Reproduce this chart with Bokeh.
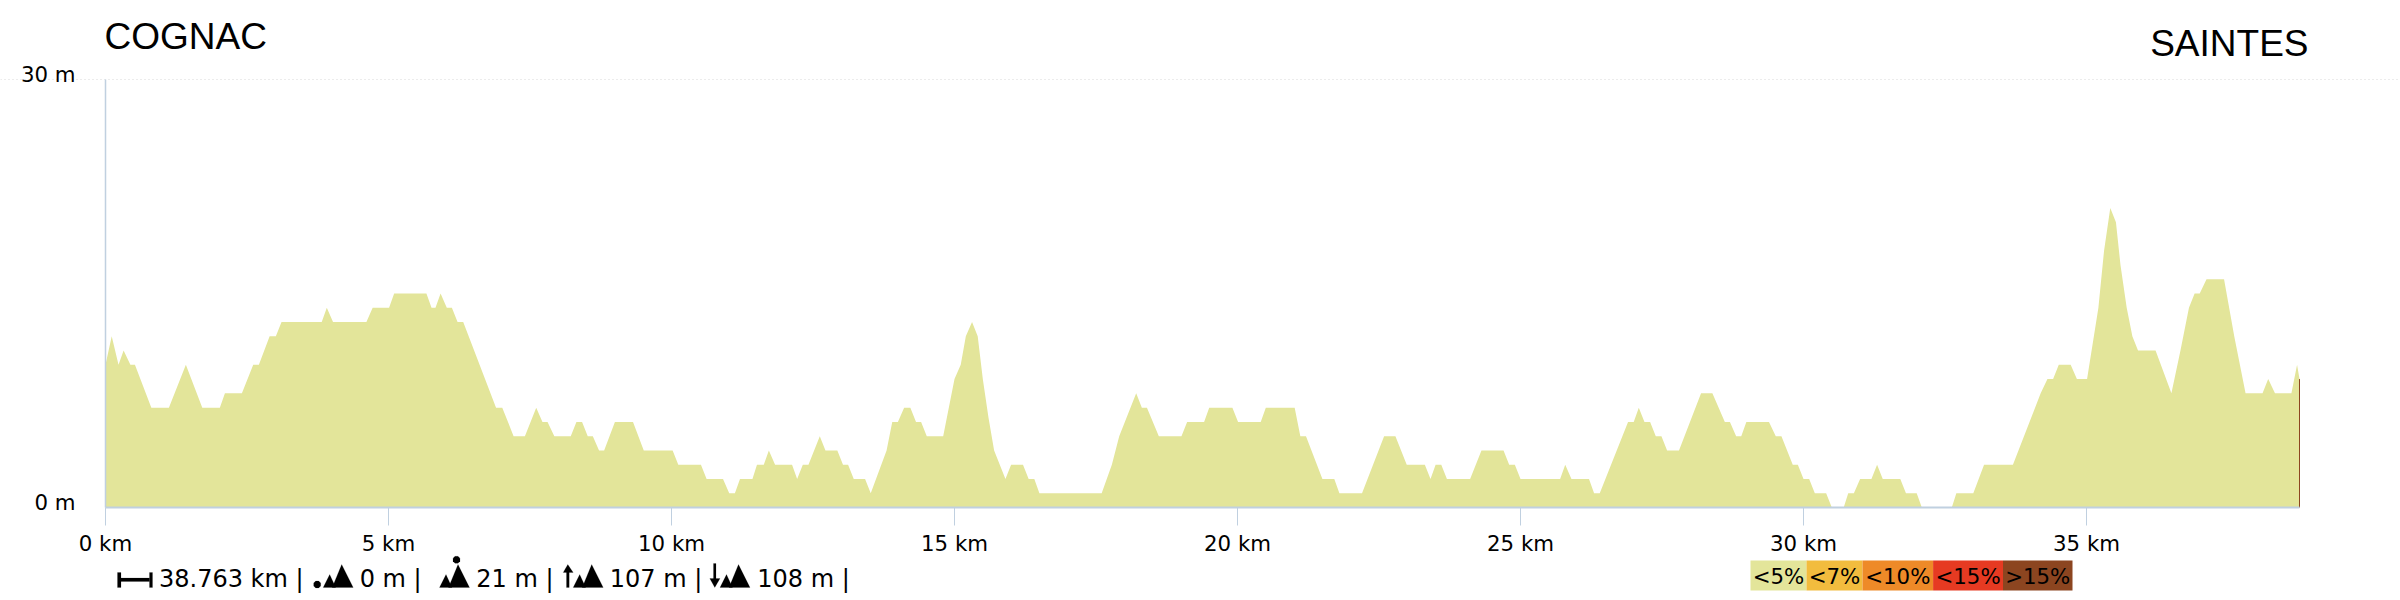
from bokeh.embed import file_html
from bokeh.resources import INLINE
from bokeh.plotting import figure
from bokeh.models import Label, PolyAnnotation, Range1d, FixedTicker, LinearAxis, Grid

start_name = "COGNAC"
end_name = "SAINTES"
dist_km = [0, .11, .23, .32, .44, .52, .81, 1.12, 1.42, 1.71, 2.02, 2.11, 2.41, 2.61, 2.71, 2.90, 3.01, 3.11,
           3.82, 3.91, 4.02, 4.61, 4.72, 5.01, 5.10, 5.67, 5.76, 5.83, 5.92, 6.03, 6.12, 6.22, 6.32, 6.90, 7.01,
           7.21, 7.41, 7.61, 7.72, 7.81, 7.93, 8.22, 8.32, 8.42, 8.52, 8.61, 8.72, 8.81, 9.00, 9.32, 9.51, 10.02,
           10.12, 10.52, 10.62, 10.91, 11.02, 11.12, 11.21, 11.43, 11.51, 11.63, 11.72, 11.83, 12.13, 12.22, 12.32,
           12.42, 12.62, 12.72, 12.93, 13.03, 13.12, 13.22, 13.42, 13.52, 13.80, 13.90, 14.00, 14.11, 14.22, 14.32,
           14.41, 14.51, 14.80, 15.00, 15.11, 15.20, 15.31, 15.41, 15.50, 15.60, 15.70, 15.90, 16.00, 16.21, 16.31,
           16.41, 16.50, 17.60, 17.78, 17.91, 18.21, 18.31, 18.40, 18.61, 19.01, 19.11, 19.41, 19.50, 19.91, 20.01,
           20.41, 20.50, 21.01, 21.11, 21.21, 21.50, 21.71, 21.80, 22.20, 22.59, 22.79, 22.99, 23.31, 23.41, 23.50,
           23.60, 23.70, 24.11, 24.31, 24.70, 24.80, 24.90, 25.00, 25.70, 25.79, 25.90, 26.21, 26.30, 26.40, 26.90,
           27.00, 27.09, 27.19, 27.29, 27.39, 27.49, 27.59, 27.80, 28.19, 28.39, 28.61, 28.70, 28.81, 28.90, 28.99,
           29.39, 29.51, 29.61, 29.81, 29.90, 30.00, 30.10, 30.20, 30.40, 30.50, 30.71, 30.79, 30.89, 31.00, 31.20,
           31.30, 31.40, 31.71, 31.81, 32.00, 32.09, 32.62, 32.70, 33.00, 33.19, 33.70, 34.19, 34.31, 34.41, 34.51,
           34.72, 34.83, 35.01, 35.13, 35.21, 35.31, 35.42, 35.52, 35.60, 35.71, 35.81, 35.91, 36.22, 36.50, 36.66,
           36.81, 36.91, 37.00, 37.12, 37.43, 37.61, 37.81, 38.11, 38.21, 38.33, 38.62, 38.72, 38.763]
elev_m = [10, 12, 10, 11, 10, 10, 7, 7, 10, 7, 7, 8, 8, 10, 10, 12, 12, 13,
          13, 14, 13, 13, 14, 14, 15, 15, 14, 14, 15, 14, 14, 13, 13, 7, 7,
          5, 5, 7, 6, 6, 5, 5, 6, 6, 5, 5, 4, 4, 6, 6, 4, 4,
          3, 3, 2, 2, 1, 1, 2, 2, 3, 3, 4, 3, 3, 2, 3,
          3, 5, 4, 4, 3, 3, 2, 2, 1, 4, 6, 6, 7, 7, 6,
          6, 5, 5, 9, 10, 12, 13, 12, 9, 6.3, 4, 2, 3, 3, 2,
          2, 1, 1, 3, 5, 8, 7, 7, 5, 5, 6, 6, 7, 7, 6,
          6, 7, 7, 5, 5, 2, 2, 1, 1, 5, 5, 3, 3, 2, 3,
          3, 2, 2, 4, 4, 3, 3, 2, 2, 3, 2, 2, 1, 1, 6,
          6, 7, 6, 6, 5, 5, 4, 4, 8, 8, 6, 6, 5, 5, 6,
          6, 5, 5, 3, 3, 2, 2, 1, 1, 0, 0, 1, 1, 2, 2,
          3, 2, 2, 1, 1, 0, 0, 1, 1, 3, 3, 8, 9, 9, 10,
          10, 9, 9, 12, 14, 18, 21, 20, 17, 14, 12, 11, 11, 8, 11,
          14, 15, 15, 16, 16, 12, 8, 8, 9, 8, 8, 10, 9]
steep_km = [38.763, 38.763]
steep_m = [0, 9]
x_ticks = [0, 5, 10, 15, 20, 25, 30, 35]
y_ticks = [0, 30]
y_tick_labels = ["0 m", "30 m"]
x_max = 38.763
y_max = 30
grade_labels = ["<5%", "<7%", "<10%", "<15%", ">15%"]
grade_colors = ["#e3e59a", "#f2bc3e", "#ee8a28", "#e63a22", "#8c4520"]
stats = ["38.763 km |", "0 m |", "21 m |", "107 m |", "108 m |"]

AXIS = "#c0d0e0"
DEJAVU = "DejaVu Sans"
W, H = 2400, 600
PLOT_L, PLOT_R, PLOT_T, PLOT_B = 105, 2299, 79, 507
kx = (PLOT_R - PLOT_L) / x_max
ky = (PLOT_B - PLOT_T) / y_max

# The frame fills the page, so that the titles, the legend and the footer are not clipped.
p = figure(width=W, height=H, output_backend="svg", toolbar_location=None,
           x_range=Range1d(-PLOT_L / kx, (W - PLOT_L) / kx),
           y_range=Range1d(-(H - PLOT_B) / ky, y_max + PLOT_T / ky),
           frame_width=W, frame_height=H, x_axis_type=None, y_axis_type=None,
           min_border_left=0, min_border_right=0, min_border_top=0, min_border_bottom=0)
p.outline_line_color = None
p.background_fill_color = "white"
p.grid.visible = False

p.add_layout(Grid(dimension=1, ticker=FixedTicker(ticks=[y_ticks[1]]), bounds=(0, x_max + 0.07),
                  grid_line_color="#d8d8d8", grid_line_dash="1 3", grid_line_width=1))

p.varea(x=dist_km, y1=[0] * len(dist_km), y2=elev_m, fill_color=grade_colors[0], fill_alpha=1)
p.line(x=steep_km, y=steep_m, line_color=grade_colors[4], line_width=1)

ax = LinearAxis(fixed_location=0, bounds=(0, x_max), ticker=FixedTicker(ticks=x_ticks),
                major_label_overrides={t: f"{t} km" for t in x_ticks},
                axis_line_color=AXIS, axis_line_width=2, major_tick_line_color=AXIS,
                major_tick_out=18, major_tick_in=0, minor_tick_line_color=None, major_label_standoff=5,
                major_label_text_font=DEJAVU, major_label_text_font_size="21.3px", major_label_text_color="black")
p.add_layout(ax, "below")

ay = LinearAxis(fixed_location=0, bounds=(0, y_max), ticker=FixedTicker(ticks=y_ticks),
                major_label_overrides={t: "" for t in y_ticks},
                axis_line_color=AXIS, axis_line_width=1.5, major_tick_line_color=None, minor_tick_line_color=None)
p.add_layout(ay, "left")

for t, s in zip(y_ticks, y_tick_labels):
    p.add_layout(Label(x=0, y=t, x_units="data", y_units="data", x_offset=-30, y_offset=5, text=s,
                       text_align="right", text_baseline="alphabetic", text_font=DEJAVU,
                       text_font_size="21.3px", text_color="black"))


def page_label(x, y, text, font=DEJAVU, size="24px", align="left"):
    # y is the vertical middle of the capitals on the page
    p.add_layout(Label(x=x, y=H - y, x_units="screen", y_units="screen", text=text,
                       text_align=align, text_baseline="alphabetic", text_font=font,
                       text_font_size=size, text_color="black"))


page_label(104, 36, start_name, "Liberation Sans", "37px")
page_label(2308, 43, end_name, "Liberation Sans", "37px", "right")


def poly(xs, ys):
    p.add_layout(PolyAnnotation(xs=list(xs), ys=[H - v for v in ys], xs_units="screen", ys_units="screen",
                                fill_color="black", fill_alpha=1, line_color="black", line_width=0.5))


def bar(x0, x1, y0, y1):
    poly([x0, x1, x1, x0], [y0, y0, y1, y1])


def dot(cx, cy):
    poly([cx - 3.5, cx - 1.5, cx + 1.5, cx + 3.5, cx + 3.5, cx + 1.5, cx - 1.5, cx - 3.5],
         [cy - 1.5, cy - 3.5, cy - 3.5, cy - 1.5, cy + 1.5, cy + 3.5, cy + 3.5, cy + 1.5])


def mountains(x):
    poly([x, x + 12.5, x + 6.5], [587, 587, 574])
    poly([x + 9, x + 30, x + 18.5], [587, 587, 564])


page_label(158.5, 578, stats[0])
bar(117, 120.5, 572, 587)
bar(120.5, 149, 577.5, 581)
bar(149, 152, 572, 587)

dot(316.7, 584)
mountains(322.7)
page_label(359.2, 578, stats[1])

mountains(439)
dot(456, 559.3)
page_label(475.8, 578, stats[2])

bar(566, 568.7, 571, 587)
poly([562.7, 567.3, 572.7], [572, 564, 572])
mountains(572.7)
page_label(609.2, 578, stats[3])

bar(713, 715.5, 563, 582)
poly([709.3, 719.5, 714.3], [578, 578, 587])
mountains(719.5)
page_label(756.8, 578, stats[4])

edges = [1750, 1806, 1862, 1932.6, 2002.5, 2072]
for i, (lab, col) in enumerate(zip(grade_labels, grade_colors)):
    x0, x1 = edges[i], edges[i + 1]
    p.add_layout(PolyAnnotation(xs=[x0, x1, x1, x0], ys=[H - 560, H - 560, H - 590, H - 590],
                                xs_units="screen", ys_units="screen", fill_color=col, fill_alpha=1, line_color=None))
    page_label((x0 + x1) / 2, 576, lab, size="21.3px", align="center")

open("out.html", "w").write(file_html(p, INLINE))
